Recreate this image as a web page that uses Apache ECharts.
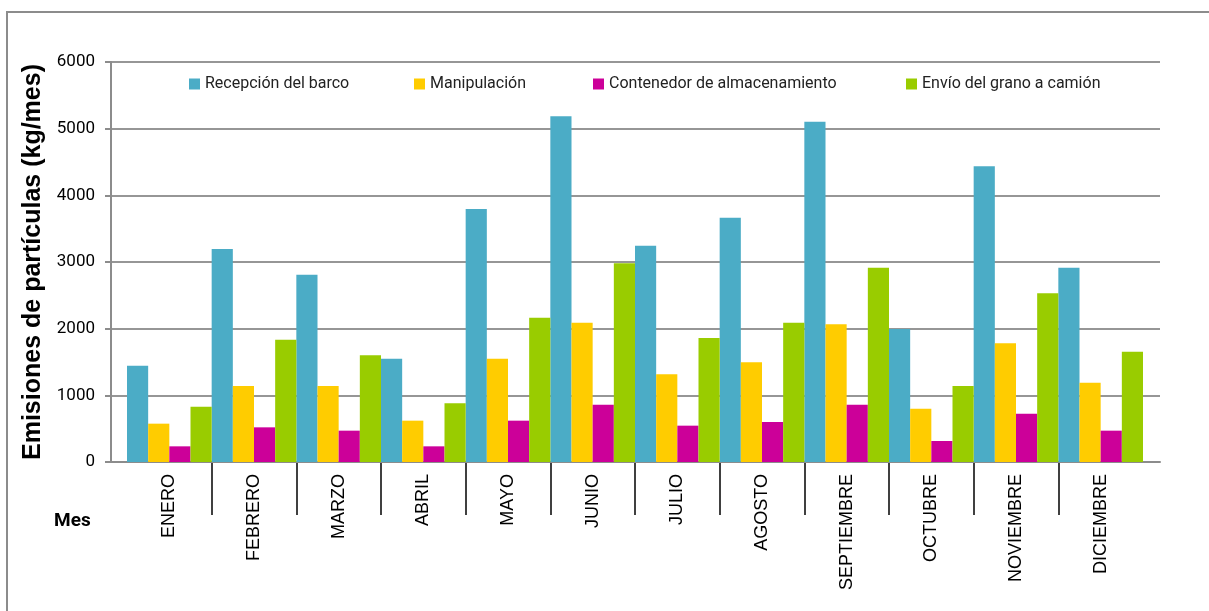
<!DOCTYPE html>
<html>
<head>
<meta charset="utf-8">
<script src="https://cdn.jsdelivr.net/npm/echarts@6/dist/echarts.min.js"></script>
<style>
  html, body { margin: 0; padding: 0; background: #fff; }
</style>
</head>
<body>
<div id="main" style="width: 1209px; height: 611px"></div>
<script>
var meses = ["ENERO", "FEBRERO", "MARZO", "ABRIL", "MAYO", "JUNIO", "JULIO", "AGOSTO", "SEPTIEMBRE", "OCTUBRE", "NOVIEMBRE", "DICIEMBRE"];
var recepcion = [1445, 3195, 2810, 1550, 3795, 5185, 3245, 3665, 5105, 1995, 4435, 2915];
var manipulacion = [575, 1140, 1140, 620, 1550, 2090, 1315, 1495, 2065, 800, 1780, 1190];
var contenedor = [235, 520, 470, 235, 620, 860, 545, 600, 860, 315, 725, 470];
var envio = [830, 1835, 1600, 880, 2165, 2980, 1860, 2090, 2915, 1140, 2530, 1655];
var yTicks = [0, 1000, 2000, 3000, 4000, 5000, 6000];

var nombres = ["Recepción del barco", "Manipulación", "Contenedor de almacenamiento", "Envío del grano a camión"];
var colores = ["#4BACC6", "#FFCC00", "#CC0099", "#99CC00"];

var myChart = echarts.init(document.getElementById("main"));

var narrow = "'Liberation Sans Narrow', 'Arial Narrow', 'Roboto', sans-serif";

// una leyenda por serie para colocarlas como en el original
var legendLeft = [184, 409, 588, 901];
var legends = [];
for (var i = 0; i < nombres.length; i++) {
  legends.push({
    data: [nombres[i]],
    left: legendLeft[i],
    top: 71,
    itemWidth: 11,
    itemHeight: 11,
    icon: "rect",
    selectedMode: false,
    textStyle: { fontFamily: narrow, fontSize: 16, color: "#222" }
  });
}

var datos = [recepcion, manipulacion, contenedor, envio];
var series = [];
for (var j = 0; j < datos.length; j++) {
  series.push({
    name: nombres[j],
    type: "bar",
    xAxisIndex: 1,
    yAxisIndex: 1,
    barGap: "0%",
    barCategoryGap: "0%",
    itemStyle: { color: colores[j] },
    data: datos[j]
  });
}

myChart.setOption({
  animation: false,
  legend: legends,
  grid: [
    // rejilla y eje de valores
    { left: 111, right: 49, top: 62, bottom: 149 },
    // barras
    { left: 127, right: 66, top: 62, bottom: 149 },
    // separadores de meses bajo el eje
    { left: 127, right: 66, top: 462, height: 53 }
  ],
  xAxis: [
    {
      type: "value",
      gridIndex: 0,
      min: 0,
      max: 1,
      axisLine: { show: true, lineStyle: { color: "#8c8c8c", width: 2 } },
      axisTick: { show: false },
      axisLabel: { show: false },
      splitLine: { show: false }
    },
    {
      type: "category",
      gridIndex: 1,
      data: meses,
      axisLine: { show: false },
      axisTick: { show: false },
      axisLabel: {
        interval: 0,
        rotate: 90,
        margin: 12,
        fontFamily: "'Liberation Sans', Arial, sans-serif",
        fontSize: 18,
        color: "#000"
      }
    },
    {
      type: "category",
      gridIndex: 2,
      data: meses,
      axisLine: { show: false },
      axisTick: { show: false, interval: 0 },
      axisLabel: { show: false, interval: 0 },
      splitLine: {
        show: true,
        interval: 0,
        showMinLine: false,
        showMaxLine: false,
        lineStyle: { color: "#000", width: 1.5 }
      }
    }
  ],
  yAxis: [
    {
      type: "value",
      gridIndex: 0,
      min: 0,
      max: 6000,
      interval: 1000,
      name: "Emisiones de partículas (kg/mes)",
      nameLocation: "middle",
      nameGap: 60,
      nameTextStyle: { fontFamily: "'Liberation Sans', Arial, sans-serif", fontWeight: "bold", fontSize: 25, color: "#000" },
      axisLine: { show: true, lineStyle: { color: "#8c8c8c", width: 2 } },
      axisTick: { show: true, length: 6, lineStyle: { color: "#8c8c8c", width: 2 } },
      axisLabel: {
        margin: 16,
        fontFamily: narrow,
        fontSize: 17,
        color: "#000",
        formatter: function (v) { return yTicks.indexOf(v) >= 0 ? String(v) : ""; }
      },
      splitLine: { show: true, lineStyle: { color: "#969696", width: 2 } }
    },
    {
      type: "value",
      gridIndex: 1,
      min: 0,
      max: 6000,
      show: false
    },
    {
      type: "value",
      gridIndex: 2,
      show: false
    }
  ],
  graphic: [
    {
      type: "text",
      left: 54,
      top: 512,
      style: { text: "Mes", font: "bold 19px " + narrow, fill: "#000" }
    },
    {
      type: "polyline",
      shape: { points: [[7, 611], [7, 12], [1209, 12]] },
      style: { stroke: "#8c8c8c", lineWidth: 2, fill: null }
    }
  ],
  series: series
});
</script>
</body>
</html>
